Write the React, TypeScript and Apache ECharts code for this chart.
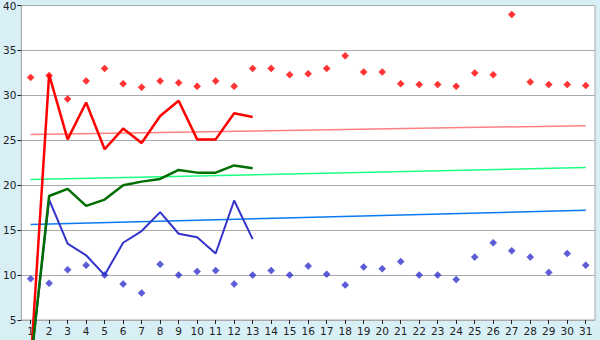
import React, { useEffect, useRef } from "react";
import * as echarts from "echarts";

const categories: string[] = Array.from({ length: 31 }, (_, i) => String(i + 1));

const redLine = [0, 32.3, 25.1, 29.2, 24.0, 26.3, 24.7, 27.7, 29.4, 25.1, 25.1, 28.0, 27.6];
const greenLine = [0, 18.8, 19.6, 17.7, 18.4, 20.0, 20.4, 20.7, 21.7, 21.4, 21.4, 22.2, 21.9];
const blueLine = [0, 18.4, 13.5, 12.2, 10.0, 13.6, 14.9, 17.0, 14.6, 14.2, 12.4, 18.3, 14.0];

const redPoints = [
  32.0, 32.2, 29.6, 31.6, 33.0, 31.3, 30.9, 31.6, 31.4, 31.0,
  31.6, 31.0, 33.0, 33.0, 32.3, 32.4, 33.0, 34.4, 32.6, 32.6,
  31.3, 31.2, 31.2, 31.0, 32.5, 32.3, 39.0, 31.5, 31.2, 31.2, 31.1,
];
const bluePoints = [
  9.6, 9.1, 10.6, 11.1, 10.0, 9.0, 8.0, 11.2, 10.0, 10.4,
  10.5, 9.0, 10.0, 10.5, 10.0, 11.0, 10.1, 8.9, 10.9, 10.7,
  11.5, 10.0, 10.0, 9.5, 12.0, 13.6, 12.7, 12.0, 10.3, 12.4, 11.1,
];

// trend lines: start (day 1) and end (day 31) values
const redTrend = [25.63, 26.63];
const greenTrend = [20.63, 21.97];
const blueTrend = [15.63, 17.22];

const yTicks = [5, 40, 5]; // min, max, interval

function endpoints(pair: number[]): (number | null)[] {
  return categories.map((_, i) => (i === 0 ? pair[0] : i === categories.length - 1 ? pair[1] : null));
}

export default function App() {
  const ref = useRef<HTMLDivElement>(null);
  useEffect(() => {
    if (!ref.current) return;
    const chart = echarts.init(ref.current, undefined, { renderer: "svg" });
    const font = { fontFamily: "DejaVu Sans", fontSize: 10.5, color: "#222" };
    const trend = (data: number[], color: string) => ({
      type: "line",
      data: endpoints(data),
      connectNulls: true,
      showSymbol: false,
      symbol: "none",
      lineStyle: { color, width: 1.5 },
      silent: true,
      z: 1,
    });
    const line = (data: number[], color: string, width: number, z: number) => ({
      type: "line",
      data,
      showSymbol: false,
      symbol: "none",
      clip: false,
      lineStyle: { color, width },
      silent: true,
      z,
    });
    const points = (data: number[], color: string) => ({
      type: "scatter",
      data,
      symbol: "diamond",
      symbolSize: 7,
      itemStyle: { color, borderColor: color, borderWidth: 0.5 },
      silent: true,
      z: 6,
    });
    chart.setOption({
      animation: false,
      backgroundColor: "#d8eff6",
      grid: {
        left: 20,
        right: 5,
        top: 5,
        bottom: 20,
        show: true,
        backgroundColor: "#ffffff",
        borderColor: "#aaaaaa",
        borderWidth: 1,
      },
      xAxis: {
        type: "category",
        data: categories,
        boundaryGap: true,
        axisLine: { show: true, lineStyle: { color: "#aaaaaa", width: 1 } },
        axisTick: { show: true, alignWithLabel: true, length: 4, lineStyle: { color: "#222" } },
        axisLabel: { ...font, interval: 0, margin: 5 },
        splitLine: { show: false },
      },
      yAxis: {
        type: "value",
        min: yTicks[0],
        max: yTicks[1],
        interval: yTicks[2],
        axisLine: { show: true, lineStyle: { color: "#aaaaaa", width: 1 } },
        axisTick: { show: true, length: 4, lineStyle: { color: "#222" } },
        axisLabel: { ...font, margin: 5 },
        splitLine: { show: true, lineStyle: { color: "#aaaaaa", width: 1 } },
      },
      series: [
        trend(redTrend, "#ff8080"),
        trend(greenTrend, "#1aff80"),
        trend(blueTrend, "#0a7af0"),
        line(blueLine, "#3333cc", 2, 3),
        line(redLine, "#ff0000", 2.5, 4),
        line(greenLine, "#006e00", 2.5, 5),
        points(redPoints, "#ff0000"),
        points(bluePoints, "#3333cc"),
      ],
    });
    return () => chart.dispose();
  }, []);
  return (
    <div
      ref={ref}
      style={{ position: "fixed", left: 0, top: 0, width: 600, height: 340 }}
    />
  );
}
